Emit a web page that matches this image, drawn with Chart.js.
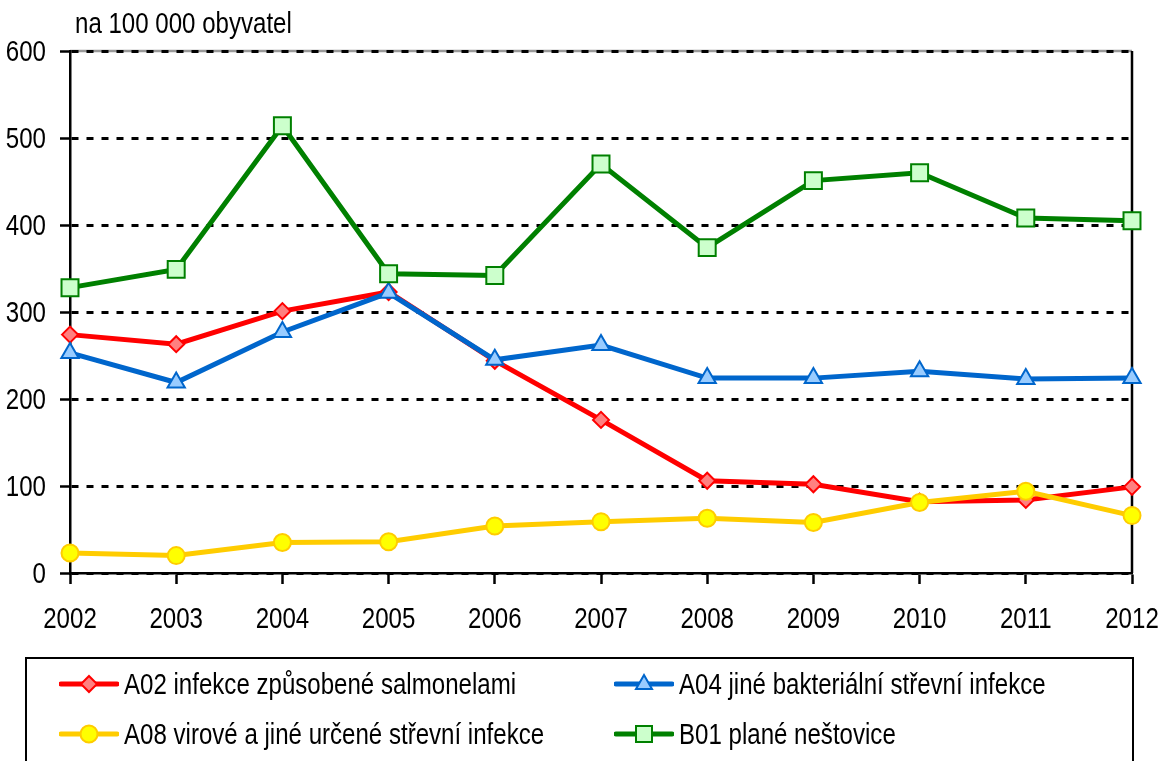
<!DOCTYPE html>
<html>
<head>
<meta charset="utf-8">
<script src="https://cdn.jsdelivr.net/npm/chart.js@4.4.1/dist/chart.umd.min.js"></script>
<style>
  body { margin: 0; background: #fff; overflow: hidden; }
  #wrap { position: relative; width: 1163px; height: 761px; }
  #chart { position: absolute; left: 0; top: 0; }
  .ff { font-family: "Liberation Sans", Arial, sans-serif; font-size: 29px; color: #000; }
  .narrow { display: inline-block; transform: scaleX(0.83); transform-origin: left center; white-space: nowrap; }
  #unit { position: absolute; left: 75px; top: 9px; line-height: 29px; }
  #legend { position: absolute; left: 25px; top: 657px; width: 1109px; height: 140px;
            border: 2px solid #000; box-sizing: border-box; }
  .item { position: absolute; display: flex; align-items: center; height: 30px; white-space: nowrap; }
  .item svg { margin-right: 5px; flex: none; }
</style>
</head>
<body>
<div id="wrap">
  <canvas id="chart" width="1163" height="761"></canvas>
  <div id="unit" class="ff"><span class="narrow">na 100 000 obyvatel</span></div>
  <div id="legend" class="ff"></div>
</div>
<script>
// Data
const years = ['2002', '2003', '2004', '2005', '2006', '2007', '2008', '2009', '2010', '2011', '2012'];
const salmonella = [274, 263, 301, 323, 244, 176, 106, 102, 82, 84, 99];
const bacterial  = [253, 219, 277, 322, 245, 262, 224, 224, 232, 223, 224];
const viral      = [23, 20, 35, 36, 54, 59, 63, 58, 81, 94, 66];
const chickenpox = [328, 349, 514, 344, 342, 470, 374, 451, 460, 408, 405];
const yTicks = [0, 100, 200, 300, 400, 500, 600];

const seriesNames = [
  'A02 infekce způsobené salmonelami',
  'A04 jiné bakteriální střevní infekce',
  'A08 virové a jiné určené střevní infekce',
  'B01 plané neštovice'
];

/* ==========================
   SERIES STYLES
========================== */
const styles = [
  { line: '#ff0000', fill: '#ff8080', shape: 'rectRot', r: 8,  order: 4 },
  { line: '#0066cc', fill: '#99ccff', shape: 'triangle', r: 10, order: 3 },
  { line: '#ffcc00', fill: '#ffff00', shape: 'circle', r: 8.5, order: 2 },
  { line: '#008000', fill: '#ccffcc', shape: 'rect', r: 12, order: 1 }
];
const seriesData = [salmonella, bacterial, viral, chickenpox];

const datasets = seriesData.map((d, i) => ({
  label: seriesNames[i],
  data: d,
  borderColor: styles[i].line,
  backgroundColor: styles[i].fill,
  borderWidth: 5,
  pointStyle: styles[i].shape,
  pointRadius: styles[i].r,
  pointHoverRadius: styles[i].r,
  pointBackgroundColor: styles[i].fill,
  pointBorderColor: styles[i].line,
  pointBorderWidth: 2,
  tension: 0,
  order: styles[i].order,
  clip: false
}));

// plot frame: grey top, black right (drawn under the grid)
const frame = {
  id: 'frame',
  beforeDraw(chart) {
    const { ctx, chartArea: a } = chart;
    ctx.save();
    ctx.lineWidth = 2.5;
    ctx.strokeStyle = '#999';
    ctx.beginPath();
    ctx.moveTo(a.left, a.top);
    ctx.lineTo(a.right, a.top);
    ctx.stroke();
    ctx.strokeStyle = '#000';
    ctx.beginPath();
    ctx.moveTo(a.right, a.top);
    ctx.lineTo(a.right, a.bottom);
    ctx.stroke();
    ctx.restore();
  }
};

// tick labels in a narrow face (no Arial Narrow installed -> squeeze Liberation Sans)
const narrowTicks = {
  id: 'narrowTicks',
  afterDraw(chart) {
    const { ctx, chartArea: a, scales: { x, y } } = chart;
    const put = (txt, px, py, align) => {
      ctx.save();
      ctx.translate(px, py);
      ctx.scale(0.83, 1);
      ctx.font = '29px "Liberation Sans", Arial, sans-serif';
      ctx.fillStyle = '#000';
      ctx.textAlign = align;
      ctx.textBaseline = 'alphabetic';
      ctx.fillText(txt, 0, 0);
      ctx.restore();
    };
    x.ticks.forEach((t, i) => put(x.getLabelForValue(t.value), x.getPixelForTick(i), a.bottom + 55, 'center'));
    y.ticks.forEach(t => put(String(t.value), a.left - 24, y.getPixelForValue(t.value) + 10.4, 'right'));
  }
};

new Chart(document.getElementById('chart'), {
  type: 'line',
  data: { labels: years, datasets: datasets },
  options: {
    responsive: false,
    animation: false,
    events: [],
    layout: { padding: { top: 51, right: 31, left: 0, bottom: 0 } },
    plugins: { legend: { display: false }, tooltip: { enabled: false } },
    scales: {
      x: {
        offset: false,
        afterFit: s => { s.height = 188; s.paddingLeft = 0; s.paddingRight = 0; },
        grid: { drawOnChartArea: false, tickLength: 11, tickColor: '#000', tickWidth: 2.5 },
        border: { color: '#000', width: 2.5 },
        ticks: { display: false }
      },
      y: {
        min: 0,
        max: 600,
        afterFit: s => { s.width = 70; s.paddingTop = 0; s.paddingBottom = 0; },
        afterBuildTicks: s => { s.ticks = yTicks.map(v => ({ value: v })); },
        grid: { color: '#000', lineWidth: 3, tickLength: 10, tickColor: '#000', tickWidth: 2.5 },
        border: { color: '#000', width: 2.5, dash: [7, 8] },
        ticks: { display: false }
      }
    }
  },
  plugins: [frame, narrowTicks]
});

/* ==========================
   LEGEND (html)
========================== */
function markerSvg(st) {
  let shape = '';
  const c = 30, cy = 15;
  if (st.shape === 'rectRot') shape = `<polygon points="${c},${cy-8} ${c+8},${cy} ${c},${cy+8} ${c-8},${cy}"/>`;
  if (st.shape === 'triangle') shape = `<polygon points="${c},${cy-9} ${c+8},${cy+5} ${c-8},${cy+5}"/>`;
  if (st.shape === 'circle') shape = `<circle cx="${c}" cy="${cy}" r="8.5"/>`;
  if (st.shape === 'rect') shape = `<rect x="${c-8}" y="${cy-8}" width="16" height="16"/>`;
  return `<svg width="60" height="30"><line x1="2" y1="${cy}" x2="58" y2="${cy}" stroke="${st.line}" stroke-width="5" stroke-linecap="round"/>` +
    `<g fill="${st.fill}" stroke="${st.line}" stroke-width="2">${shape}</g></svg>`;
}

const legendPos = [[32, 10], [587, 10], [32, 60], [587, 60]];
const legend = document.getElementById('legend');
seriesNames.forEach((name, i) => {
  const el = document.createElement('div');
  el.className = 'item';
  el.style.left = legendPos[i][0] + 'px';
  el.style.top = legendPos[i][1] + 'px';
  el.innerHTML = markerSvg(styles[i]) + `<span class="narrow">${name}</span>`;
  legend.appendChild(el);
});
</script>
</body>
</html>
